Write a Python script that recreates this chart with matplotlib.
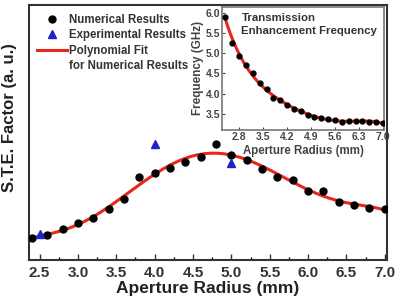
import numpy as np
import matplotlib.pyplot as plt
from matplotlib.ticker import MultipleLocator

plt.rcParams['font.family'] = ['Liberation Sans', 'DejaVu Sans']
plt.rcParams['font.weight'] = 'bold'

# main plot data (S.T.E. factor, arbitrary units)
radius = [2.4, 2.6, 2.8, 3.0, 3.2, 3.4, 3.6, 3.8, 4.0, 4.2, 4.4, 4.6,
          4.8, 5.0, 5.2, 5.4, 5.6, 5.8, 6.0, 6.2, 6.4, 6.6, 6.8, 7.0]
ste_num = [0.087, 0.098, 0.122, 0.145, 0.165, 0.200, 0.239, 0.325, 0.341, 0.361, 0.384, 0.404,
           0.455, 0.412, 0.392, 0.357, 0.325, 0.314, 0.271, 0.271, 0.227, 0.216, 0.204, 0.200]
radius_exp = [2.5, 4.0, 5.0]
ste_exp = [0.102, 0.455, 0.380]

# inset data (frequency, GHz)
freq = [5.91, 5.26, 4.94, 4.71, 4.51, 4.27, 4.11, 3.89, 3.85, 3.72, 3.62, 3.56,
        3.48, 3.43, 3.39, 3.38, 3.35, 3.29, 3.33, 3.33, 3.31, 3.30, 3.29, 3.27]

red = '#e8261c'
dark = '#333333'

fig = plt.figure(figsize=(3.95, 3.0), dpi=100)
ax = fig.add_axes([0.073, 0.133, 0.907, 0.85])

xs = np.linspace(radius[0], radius[-1], 200)
fit = np.polyval(np.polyfit(radius, ste_num, 6), xs)

ax.plot(radius, ste_num, 'o', color='black', ms=5, label='Numerical Results', zorder=3)
ax.plot(radius_exp, ste_exp, '^', color='#2222cc', ms=6, label='Experimental Results', zorder=4)
ax.plot(xs, fit, '-', color=red, lw=2.2, label='Polynomial Fit', zorder=2)
ax.plot([], [], ' ', label='for Numerical Results')

ax.set_xlim(2.36, 7.03)
ax.set_ylim(0, 1)
ax.xaxis.set_major_locator(MultipleLocator(0.5))
ax.xaxis.set_minor_locator(MultipleLocator(0.25))
ax.set_yticks([])
ax.tick_params(axis='x', direction='in', labelsize=11, colors=dark, length=4, width=1, pad=4)
ax.tick_params(axis='x', which='minor', direction='in', length=2.5, width=1)
for lab in ax.get_xticklabels():
    lab.set_fontweight('bold')
ax.set_xlabel('Aperture Radius (mm)', fontsize=12.5, fontweight='bold', color='#222222', labelpad=1)
ax.set_ylabel('S.T.E. Factor (a. u.)', fontsize=12, fontweight='bold', color='#222222')
ax.yaxis.set_label_coords(-0.032, 0.56)
for s in ax.spines.values():
    s.set_color(dark)
    s.set_linewidth(1.5)

leg = ax.legend(loc='upper left', frameon=False, prop={'weight': 'bold', 'size': 8.3},
                handlelength=2.6, handletextpad=0.15, borderaxespad=0.0, borderpad=0.75,
                labelspacing=0.3)
for t in leg.get_texts():
    t.set_color(dark)

# inset
ins = fig.add_axes([0.562, 0.567, 0.41, 0.41])
fit2 = np.polyval(np.polyfit(radius, freq, 5), xs)
ins.plot(xs, fit2, '-', color=red, lw=2.2, zorder=2)
ins.plot(radius, freq, 'o', color='black', ms=3.5, zorder=3)
ins.set_xlim(2.3, 7.03)
ins.set_ylim(3.1, 6.15)
ins.set_xticks([2.8, 3.5, 4.2, 4.9, 5.6, 6.3, 7.0])
ins.set_yticks([3.5, 4.0, 4.5, 5.0, 5.5, 6.0])
ins.tick_params(direction='in', labelsize=7.5, colors='#444444', length=2, pad=1.5)
for lab in ins.get_xticklabels() + ins.get_yticklabels():
    lab.set_fontweight('bold')
ins.set_xlabel('Aperture Radius (mm)', fontsize=8.3, fontweight='bold', color='#444444', labelpad=2)
ins.set_ylabel('Frequency (GHz)', fontsize=8.5, fontweight='bold', color='#444444', labelpad=1)
ins.text(0.12, 0.95, 'Transmission\nEnhancement Frequency', transform=ins.transAxes,
         fontsize=8.2, fontweight='bold', color=dark, va='top', ha='left', linespacing=1.35)
for s in ins.spines.values():
    s.set_color('#777777')
    s.set_linewidth(1.2)

fig.savefig('out.png', dpi=100)
